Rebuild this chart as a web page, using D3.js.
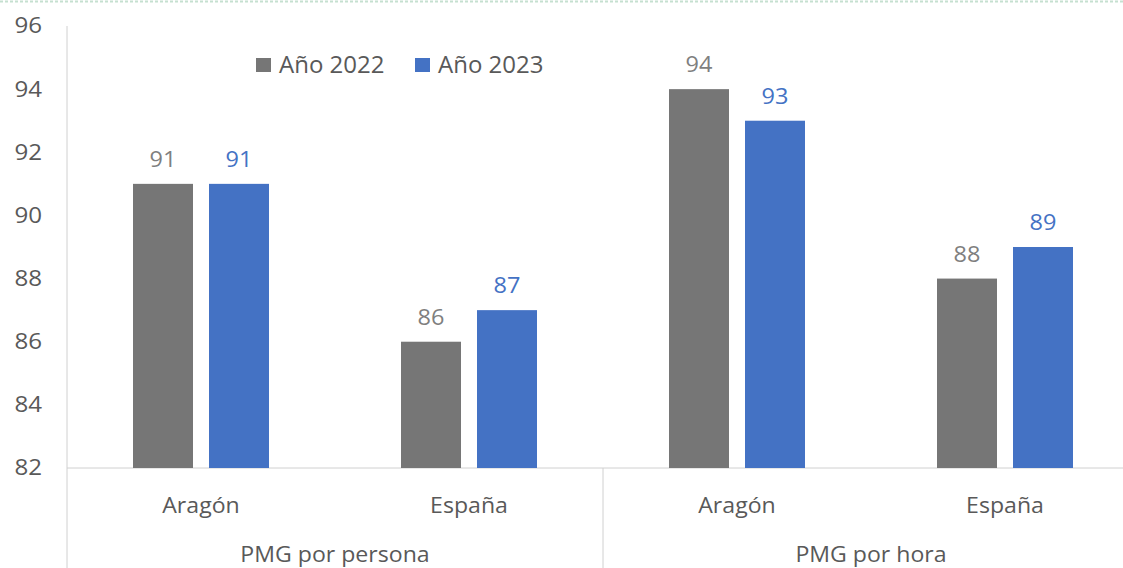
<!DOCTYPE html>
<html>
<head>
<meta charset="utf-8">
<script src="https://cdn.jsdelivr.net/npm/d3@7"></script>
<style>
  html, body { margin: 0; padding: 0; background: #fff; }
  svg { display: block; font-family: "Open Sans", "Noto Sans", sans-serif; }
</style>
</head>
<body>
<svg id="chart" width="1123" height="568"></svg>
<script>
// datos
const groups = ['PMG por persona', 'PMG por hora'];
const regions = ['Aragón', 'España'];
const series = ['Año 2022', 'Año 2023'];
const values2022 = [91, 86, 94, 88];
const values2023 = [91, 87, 93, 89];
const yTicks = [82, 84, 86, 88, 90, 92, 94, 96];

const colors = ['#767676', '#4472c4'];
const labelColors = ['#7f7f7f', '#4472c4'];

let width = 1123;
let height = 568;
let svg = d3.select('#chart');

const plotLeft = 67, plotTop = 26, plotBottom = 468;
const band = 268;

// categorias: grupo x region
let cats = [];
groups.forEach((g, gi) => regions.forEach((r, ri) => cats.push({ group: g, region: r, i: gi * 2 + ri })));

let x = d3.scaleBand().domain(cats.map(d => d.i)).range([plotLeft, plotLeft + band * cats.length]).paddingInner(0).paddingOuter(0);
let y = d3.scaleLinear().domain([82, 96]).range([plotBottom, plotTop]);
// dos barras de 60px con 16px de separacion
let xs = d3.scaleBand().domain(series).range([66, 202]).paddingInner(16 / 76);

// texto algo ensanchado, como en el original
function stretchText(sel, sx) {
  sel.attr('transform', function () {
    const tx = +this.getAttribute('x'), ty = +this.getAttribute('y');
    return `translate(${tx},${ty}) scale(${sx},1) translate(${-tx},${-ty})`;
  });
}

// linea discontinua superior
svg.append('line')
  .attr('x1', 0).attr('x2', width).attr('y1', 1.5).attr('y2', 1.5)
  .attr('stroke', '#c5e0d0').attr('stroke-width', 2).attr('stroke-dasharray', '3,2');

// eje y
svg.append('line')
  .attr('x1', plotLeft).attr('x2', plotLeft).attr('y1', plotTop).attr('y2', height)
  .attr('stroke', '#d0d0d0').attr('stroke-width', 1);

svg.append('g').selectAll('text').data(yTicks).join('text')
  .attr('x', 42).attr('y', d => y(d) + 7.5)
  .attr('text-anchor', 'end')
  .attr('fill', '#595959')
  .style('font-size', '21px')
  .text(d => d)
  .call(stretchText, 1.15);

// eje x
svg.append('line')
  .attr('x1', plotLeft).attr('x2', width).attr('y1', plotBottom).attr('y2', plotBottom)
  .attr('stroke', '#d0d0d0').attr('stroke-width', 1);

// separador de grupos
svg.append('line')
  .attr('x1', x(2)).attr('x2', x(2)).attr('y1', plotBottom).attr('y2', height)
  .attr('stroke', '#d0d0d0').attr('stroke-width', 1);

const data = [values2022, values2023];

let barGroup = svg.append('g');
series.forEach((s, si) => {
  barGroup.append('g').selectAll('rect').data(data[si]).join('rect')
    .attr('x', (d, i) => x(i) + xs(s))
    .attr('y', d => y(d))
    .attr('width', xs.bandwidth())
    .attr('height', d => y(82) - y(d))
    .attr('fill', colors[si]);

  barGroup.append('g').selectAll('text').data(data[si]).join('text')
    .attr('x', (d, i) => x(i) + xs(s) + xs.bandwidth() / 2)
    .attr('y', d => y(d) - 17)
    .attr('text-anchor', 'middle')
    .attr('fill', labelColors[si])
    .style('font-size', '21px')
    .text(d => d)
    .call(stretchText, 1.12);
});

// etiquetas de region
svg.append('g').selectAll('text').data(cats).join('text')
  .attr('x', d => x(d.i) + band / 2)
  .attr('y', 513)
  .attr('text-anchor', 'middle')
  .attr('fill', '#595959')
  .style('font-size', '22px')
  .text(d => d.region)
  .call(stretchText, 1.05);

// etiquetas de grupo
svg.append('g').selectAll('text').data(groups).join('text')
  .attr('x', (d, i) => x(i * 2) + band)
  .attr('y', 562)
  .attr('text-anchor', 'middle')
  .attr('fill', '#595959')
  .style('font-size', '22px')
  .text(d => d)
  .call(stretchText, 1.05);

// leyenda
const legendX = [256, 415];
let legend = svg.append('g').selectAll('g').data(series).join('g')
  .attr('transform', (d, i) => `translate(${legendX[i]}, 65)`);
legend.append('rect')
  .attr('x', 0).attr('y', -7).attr('width', 15).attr('height', 14)
  .attr('fill', (d, i) => colors[i]);
legend.append('text')
  .attr('x', 23).attr('y', 7.5)
  .attr('fill', '#595959')
  .style('font-size', '24px')
  .text(d => d);
</script>
</body>
</html>
